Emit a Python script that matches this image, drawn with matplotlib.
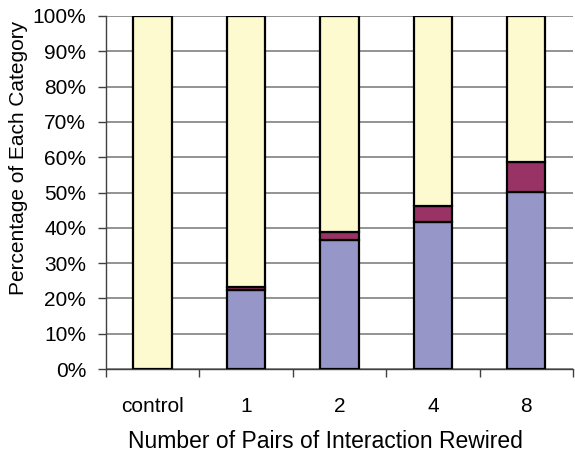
import matplotlib
matplotlib.use('Agg')
import matplotlib.pyplot as plt
import numpy as np

categories = ['control', '1', '2', '4', '8']
blue_pct = [0.0, 22.3, 36.5, 41.6, 50.1]
maroon_pct = [0.0, 0.8, 2.3, 4.7, 8.5]
yellow_pct = [100 - b - m for b, m in zip(blue_pct, maroon_pct)]

plt.rcParams['font.family'] = ['Liberation Sans', 'DejaVu Sans']

fig = plt.figure(figsize=(5.75, 4.53), dpi=100)
ax = fig.add_axes([0.184, 0.1854, 0.8125, 0.7793])

x = np.arange(len(categories))
w = 0.41
kw = dict(width=w, edgecolor='black', linewidth=1.6, zorder=3)
ax.bar(x, blue_pct, color='#9696C8', **kw)
ax.bar(x, maroon_pct, bottom=blue_pct, color='#993366', **kw)
ax.bar(x, yellow_pct, bottom=np.add(blue_pct, maroon_pct), color='#FCFACE', **kw)

ax.set_xlim(-0.5, len(categories) - 0.5)
ax.set_ylim(0, 100)
ax.set_yticks(range(0, 101, 10))
ax.set_yticklabels([f'{v}%' for v in range(0, 101, 10)], fontsize=15)
ax.set_xticks(x)
ax.set_xticklabels(categories, fontsize=15)
ax.set_xticks(np.arange(-0.5, len(categories)), minor=True)
ax.tick_params(axis='x', which='major', length=0, pad=20)
ax.tick_params(axis='x', which='minor', length=6, width=1, color='#404040', direction='out')
ax.tick_params(axis='y', length=6, width=1, color='#404040', pad=8)

ax.yaxis.grid(True, color='#808080', linewidth=1.2, zorder=0)
ax.set_axisbelow(True)
for s in ['top', 'right']:
    ax.spines[s].set_visible(False)
for s in ['left', 'bottom']:
    ax.spines[s].set_color('#404040')
    ax.spines[s].set_linewidth(1)

ax.set_ylabel('Percentage of Each Category', fontsize=15)
ax.yaxis.set_label_coords(-0.167, 0.598)
ax.set_xlabel('Number of Pairs of Interaction Rewired', fontsize=16.5)
ax.xaxis.set_label_coords(0.47, -0.172)

fig.savefig('out.png', dpi=100)
